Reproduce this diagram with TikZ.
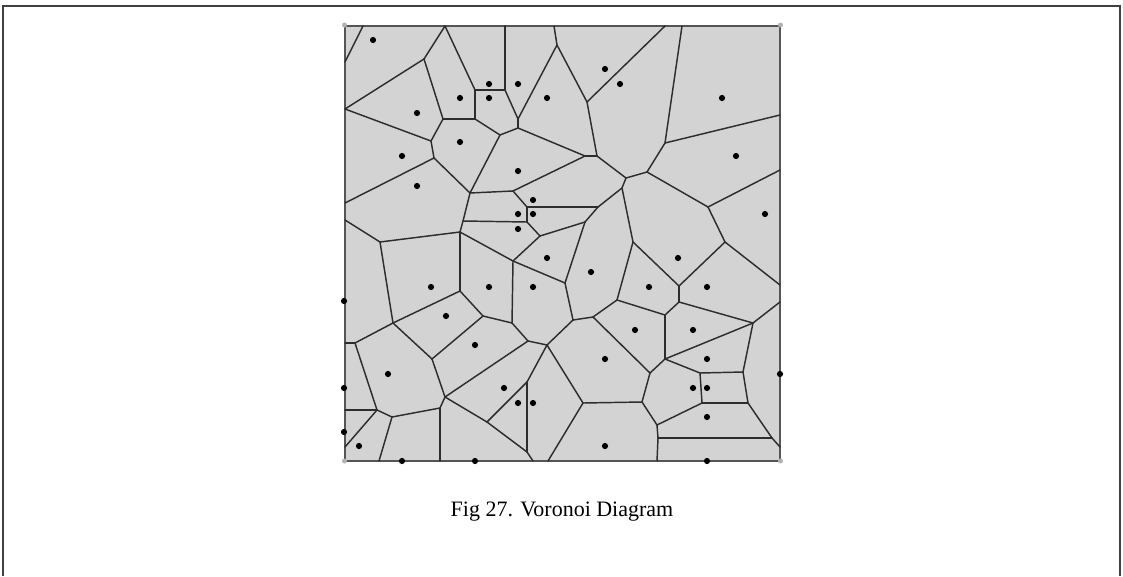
\documentclass[tikz,border=0pt]{standalone}
\usepackage{fontspec}
\setmainfont{Liberation Serif}
\definecolor{cellfill}{RGB}{211,211,211}
\definecolor{edgecol}{RGB}{45,45,45}
\definecolor{bordercol}{RGB}{85,85,85}
\begin{document}
\begin{tikzpicture}[x=1pt,y=-1pt,
  vedge/.style={draw=edgecol, line width=1.45pt},
  sitedot/.style={circle, fill=black, inner sep=0pt, minimum size=6.2pt},
  cornerdot/.style={circle, fill=black!30, inner sep=0pt, minimum size=5pt},
  frameline/.style={draw=black!75, line width=1.5pt}]
\useasboundingbox (0,0) rectangle (1123,576);
\draw[frameline] (3,576) -- (3,6) -- (1120,6) -- (1120,576);
\filldraw[fill=cellfill, draw=bordercol, line width=2pt] (344.7,25.7) rectangle (780,460.7);
% vertices
\foreach \n/\x/\y in {A1/363/26, A2/345/62, B1/445/26, B2/424/59, B3/443/119, B4/475/119, B5/475/90, B6/505/90, B7/505/26,
 L1/345/109, C1/431/141, C2/434/158, L2/345/203, D1/470/193, E1/500/135, E2/518/119, E3/518/128,
 G0/554/26, G1/557/45, G2/587/102, G3/665/26, F1/585/156, F2/597/156,
 D2/513/191, D4/527/207, D5/598/207, D6/527/222, D7/463/221, D3/460/232, D8/540/236, D9/585/222, D10/513/261, D11/565/283, D12/380/242, L6/345/220,
 H1/622/188, H2/626/178, H3/647/172, H4/665/143, G4/682/26, R1/780/115, H5/708/207, R2/780/170, H6/725/242, R3/780/285, H7/679/286, H9/633/242, H10/617/300, H11/679/302, H12/665/315, H13/753/323, R4/780/302, H14/665/359, H15/743/372, H16/748/403, H17/772/438, R5/780/447, H18/593/317, H19/573/320, H20/650/373, H21/700/373, H22/702/403, H23/657/425, H24/642/402, H25/658/438, B8/657/461,
 K1/583/403, K2/547/345, K3/528/341, K4/527/382, K5/527/452, K7/512/323,
 M1/445/397, M2/487/422, M4/460/291, M5/483/316, M6/432/359,
 N1/393/323, N3/355/343, L3/345/343, N4/377/410, L4/345/410, L5/345/447, N5/392/417, N6/440/408,
 B9/533/461, B10/548/461, B11/379/461, B12/440/461}
  \coordinate (\n) at (\x,\y);
% edges
\foreach \a/\b in {A1/A2, B1/B2, B2/L1, B2/B3, B3/B4, B1/B5, B5/B4, B5/B6, B6/B7,
 L1/C1, B3/C1, C1/C2, C2/L2, C2/D1,
 B4/E1, B6/E2, E2/E3, E3/E1, E3/F1, E2/G1, G1/G0, G1/G2, G2/G3, G2/F2, F1/F2,
 E1/D1, D1/D2, D2/F1, D2/D4, D4/D5, D4/D6, D6/D7, D1/D7, D7/D3, D6/D8, D8/D9, D9/D5, D8/D10, D9/D11, D10/D3, D10/D11, D3/D12, D12/L6, D3/M4,
 D5/H1, H1/H2, H2/F2, H2/H3, H3/H4, H4/G4, H4/R1, H3/H5, H5/R2, H5/H6, H6/R3, H6/H7, H7/H9, H1/H9, H9/H10, H7/H11, H11/H12, H11/H13, H13/R4, H13/H14, H13/H15, H15/H16, H16/H17, H17/R5, H12/H14, H12/H10, H10/H18, H18/H19, D11/H19, H18/H20, H14/H20, H14/H21, H21/H15, H21/H22, H22/H16, H22/H23, H20/H24, H24/K1, H24/H23, H23/H25, H25/H17, H25/B8,
 H19/K2, K2/K3, K2/K4, K2/K1, K4/K5, K4/M2, M2/M1, M2/K5, K5/B9, K1/B10,
 K3/K7, D10/K7, K7/M5, M5/M4, M5/M6, K3/M1, M6/M1, N1/D12, N1/M6, N1/M4, N1/N3, N3/L3, N3/N4, N4/L4, N4/L5, N4/N5, N5/B11, N5/N6, N6/M1, N6/B12}
  \draw[vedge, line cap=round] (\a) -- (\b);
% faint corner points
\foreach \x/\y [count=\i] in {344.5/25, 780.5/25, 344.5/461, 780.5/461}
  \node[cornerdot] (c\i) at (\x,\y) {};
% sites
\foreach \x/\y [count=\i] in {373/40, 489/84, 518/84, 605/69, 620/84, 460/98, 489/98, 547/98, 417/113, 722/98,
 460/142, 402/156, 736/156, 518/171, 417/186, 533/200, 518/214, 533/214, 518/229, 765/214,
 547/258, 678/258, 591/272, 431/287, 489/287, 533/287, 649/287, 707/287, 344/301, 446/316,
 635/330, 693/330, 475/345, 707/359, 605/359, 388/374, 780/374, 344/388, 504/388, 693/388,
 707/388, 518/403, 533/403, 707/417, 344/432, 359/446, 605/446, 402/461, 475/461, 707/461}
  \node[sitedot] (s\i) at (\x,\y) {};
\node[font=\fontsize{22}{26}\selectfont] (caption) at (562,512) {Fig 27. Voronoi Diagram};
\end{tikzpicture}
\end{document}
